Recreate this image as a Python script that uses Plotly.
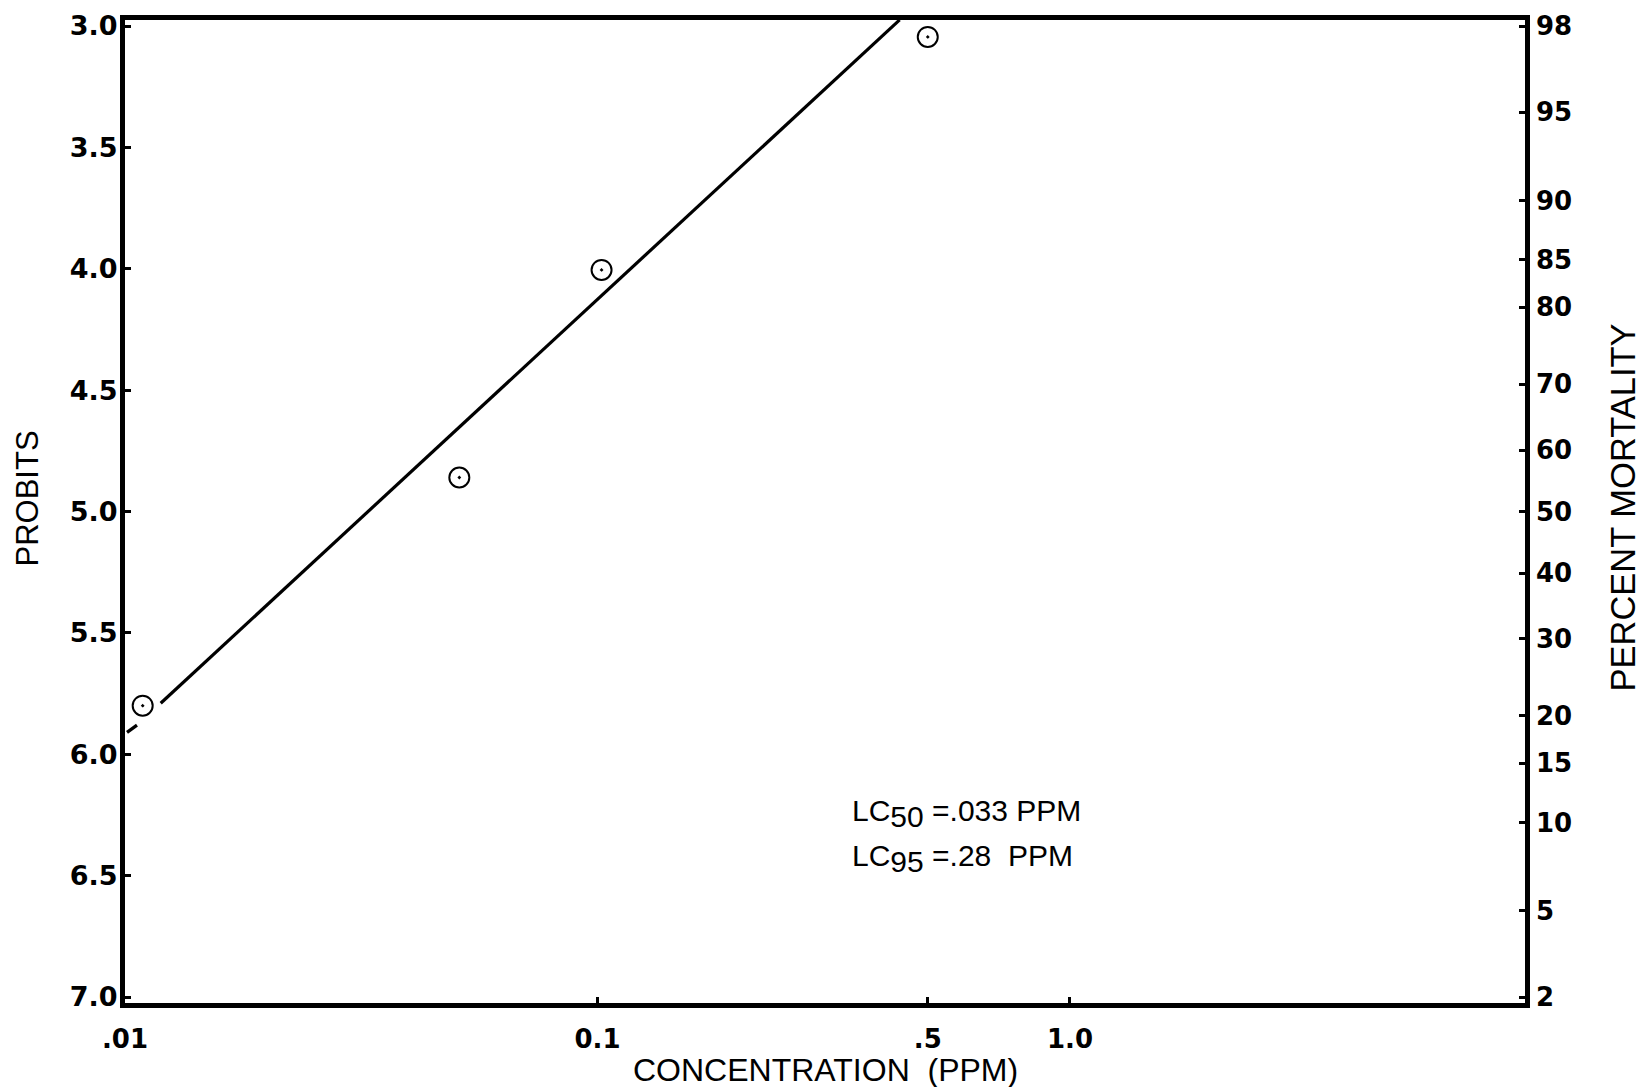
import plotly.graph_objects as go
from statistics import NormalDist

# ---- data ----
conc = [0.0109, 0.051, 0.102, 0.5]          # PPM
probits = [5.80, 4.86, 4.005, 3.045]

fit_conc = [0.0101, 0.0106, None, 0.0119, 0.436]
fit_probit = [5.91, 5.88, None, 5.79, 2.975]

probit_ticks = [3.0, 3.5, 4.0, 4.5, 5.0, 5.5, 6.0, 6.5, 7.0]
probit_labels = ["3.0", "3.5", "4.0", "4.5", "5.0", "5.5", "6.0", "6.5", "7.0"]

mortality_pct = [98, 95, 90, 85, 80, 70, 60, 50, 40, 30, 20, 15, 10, 5, 2]
mortality_labels = [str(p) for p in mortality_pct]

conc_ticks = [0.01, 0.1, 0.5, 1.0]
conc_labels = [".01", "0.1", ".5", "1.0"]

# ---- layout constants ----
FONT = "Liberation Sans, Arial, Helvetica, sans-serif"
TICKFONT = "DejaVu Sans, Liberation Sans, sans-serif"
Y_RANGE = [7.0247, 2.9753]
X_RANGE = [-2.0, 0.963]

# right-axis positions (probit scale as drawn: 5 - z), kept inside the frame
nd = NormalDist()
mort_vals = [min(max(5 - nd.inv_cdf(p / 100.0), 3.0), 7.0) for p in mortality_pct]

fig = go.Figure()

fig.add_trace(go.Scatter(
    x=fit_conc, y=fit_probit, mode="lines",
    line=dict(color="black", width=3.2), connectgaps=False,
    showlegend=False, hoverinfo="skip"))

fig.add_trace(go.Scatter(
    x=conc, y=probits, mode="markers",
    marker=dict(symbol="circle-open-dot", size=20, color="black",
                line=dict(color="black", width=2)),
    showlegend=False))

# invisible trace to activate right axis
fig.add_trace(go.Scatter(x=[conc[0]], y=[probits[0]], yaxis="y2",
                         mode="markers", marker=dict(opacity=0),
                         showlegend=False, hoverinfo="skip"))

fig.update_layout(
    width=1640, height=1087,
    margin=dict(l=125, r=115, t=20, b=84, autoexpand=False),
    paper_bgcolor="white", plot_bgcolor="white",
    font=dict(family=FONT, color="black"),
    xaxis=dict(
        type="log", range=X_RANGE,
        tickvals=conc_ticks, ticktext=conc_labels,
        ticks="inside", ticklen=6, tickwidth=3, tickcolor="black",
        tickfont=dict(size=26, weight="bold", family=TICKFONT),
        ticklabelstandoff=9,
        showline=True, linewidth=5, linecolor="black", mirror=True,
        showgrid=False, zeroline=False),
    yaxis=dict(
        range=Y_RANGE,
        tickvals=probit_ticks, ticktext=probit_labels,
        ticks="inside", ticklen=6, tickwidth=3, tickcolor="black",
        tickfont=dict(size=27, weight="bold", family=TICKFONT),
        ticklabelstandoff=-3,
        showline=True, linewidth=5, linecolor="black", mirror=True,
        showgrid=False, zeroline=False),
    yaxis2=dict(
        overlaying="y", side="right", range=Y_RANGE,
        tickvals=mort_vals, ticktext=mortality_labels,
        ticks="inside", ticklen=6, tickwidth=3, tickcolor="black",
        tickfont=dict(size=26, weight="bold", family=TICKFONT),
        ticklabelstandoff=10,
        showline=False, showgrid=False, zeroline=False),
)

annotations = [
    dict(text="PROBITS", xref="paper", yref="paper", x=0, y=0.5,
         xshift=-98, yshift=13, textangle=-90, showarrow=False,
         font=dict(size=31, family=FONT), xanchor="center", yanchor="middle"),
    dict(text="PERCENT MORTALITY", xref="paper", yref="paper", x=1, y=0.5,
         xshift=97, yshift=4, textangle=-90, showarrow=False,
         font=dict(size=34.5, family=FONT), xanchor="center", yanchor="middle"),
    dict(text="CONCENTRATION  (PPM)", xref="paper", yref="paper", x=0.5, y=0,
         yshift=-67, showarrow=False,
         font=dict(size=32, family=FONT), xanchor="center", yanchor="middle"),
    dict(text="LC<sub><span style='font-size:30px'>50</span></sub> =.033 PPM",
         xref="paper", yref="paper",
         x=0.518, y=0.193, showarrow=False, xanchor="left", yanchor="middle",
         font=dict(size=30, family=FONT)),
    dict(text="LC<sub><span style='font-size:30px'>95</span></sub> =.28\u00a0\u00a0PPM",
         xref="paper", yref="paper",
         x=0.518, y=0.147, showarrow=False, xanchor="left", yanchor="middle",
         font=dict(size=30, family=FONT)),
]
fig.update_layout(annotations=annotations)

fig.write_html("out.html")
